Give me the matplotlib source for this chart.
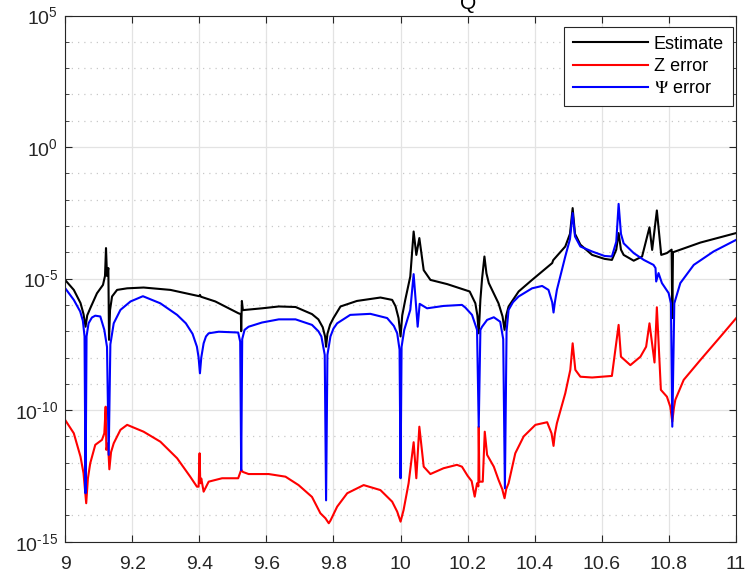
import numpy as np
import matplotlib
matplotlib.use("Agg")
import matplotlib.pyplot as plt

plt.rcParams["font.family"] = ["Liberation Sans", "DejaVu Sans"]
plt.rcParams["mathtext.default"] = "regular"
plt.rcParams["mathtext.fontset"] = "stix"

# values, rows of [x, log10(y)]
estimate = np.array([
    [9.000, -5.05], [9.026, -5.43], [9.046, -5.93], [9.055, -6.35], [9.061, -6.83],
    [9.066, -6.40], [9.075, -6.13], [9.095, -5.56], [9.113, -5.24], [9.119, -4.90],
    [9.122, -3.84], [9.125, -4.90], [9.129, -4.60], [9.131, -7.33], [9.134, -6.20],
    [9.140, -5.68], [9.155, -5.43], [9.185, -5.37], [9.234, -5.34], [9.314, -5.43],
    [9.400, -5.67], [9.402, -5.62], [9.405, -5.69], [9.448, -5.87], [9.517, -6.32],
    [9.524, -6.35], [9.525, -7.00], [9.527, -5.85], [9.530, -6.20], [9.537, -6.19],
    [9.587, -6.13], [9.637, -6.06], [9.687, -6.08], [9.736, -6.35], [9.755, -6.55],
    [9.768, -6.85], [9.775, -7.20], [9.778, -7.59], [9.782, -7.10], [9.790, -6.75],
    [9.800, -6.50], [9.821, -6.06], [9.870, -5.85], [9.940, -5.72], [9.975, -5.81],
    [9.985, -6.05], [9.994, -6.50], [10.000, -7.20], [10.005, -6.40], [10.014, -5.81],
    [10.029, -4.92], [10.039, -3.21], [10.047, -4.10], [10.056, -3.46], [10.069, -4.68],
    [10.089, -5.05], [10.139, -5.21], [10.206, -5.49], [10.223, -5.94], [10.229, -6.40],
    [10.233, -7.08], [10.238, -5.80], [10.243, -5.00], [10.250, -4.16], [10.256, -4.80],
    [10.263, -5.17], [10.292, -5.94], [10.304, -6.44], [10.310, -6.95], [10.315, -6.40],
    [10.322, -6.06], [10.352, -5.49], [10.392, -5.05], [10.452, -4.41], [10.455, -4.30],
    [10.491, -3.78], [10.505, -3.30], [10.513, -2.32], [10.520, -3.30], [10.536, -3.71],
    [10.571, -4.10], [10.608, -4.25], [10.630, -4.29], [10.643, -3.90], [10.650, -3.27],
    [10.657, -3.90], [10.665, -4.10], [10.695, -4.32], [10.720, -4.16], [10.742, -3.05],
    [10.750, -3.91], [10.764, -2.41], [10.777, -4.10], [10.794, -4.03], [10.808, -3.90],
    [10.810, -6.50], [10.812, -4.00], [10.894, -3.63], [11.000, -3.27],
])

z_error = np.array([
    [9.000, -10.37], [9.026, -10.88], [9.046, -11.77], [9.055, -12.40], [9.063, -13.54],
    [9.068, -12.60], [9.075, -12.02], [9.090, -11.32], [9.110, -11.13], [9.117, -10.88],
    [9.121, -9.87], [9.123, -11.51], [9.128, -11.26], [9.132, -12.25], [9.137, -11.60],
    [9.145, -11.26], [9.165, -10.75], [9.185, -10.56], [9.234, -10.82], [9.284, -11.20],
    [9.334, -11.83], [9.373, -12.53], [9.393, -12.91], [9.398, -12.91], [9.401, -11.64],
    [9.403, -12.78], [9.406, -12.60], [9.413, -13.10], [9.428, -12.72], [9.468, -12.59],
    [9.516, -12.59], [9.525, -12.27], [9.530, -12.35], [9.547, -12.43], [9.607, -12.43],
    [9.657, -12.53], [9.696, -12.85], [9.736, -13.30], [9.761, -13.92], [9.776, -14.11],
    [9.786, -14.30], [9.791, -14.20], [9.811, -13.67], [9.841, -13.16], [9.890, -12.85],
    [9.940, -13.04], [9.975, -13.48], [9.990, -13.86], [10.000, -14.24], [10.009, -13.80],
    [10.024, -12.78], [10.039, -11.22], [10.047, -12.59], [10.056, -10.63], [10.069, -12.15],
    [10.089, -12.43], [10.128, -12.21], [10.168, -12.08], [10.183, -12.15], [10.200, -12.50],
    [10.212, -12.70], [10.221, -13.29], [10.228, -12.78], [10.232, -12.90], [10.233, -10.63],
    [10.235, -12.72], [10.245, -12.72], [10.251, -10.82], [10.258, -11.70], [10.278, -12.15],
    [10.292, -12.65], [10.303, -13.00], [10.310, -13.35], [10.315, -13.00], [10.322, -12.78],
    [10.342, -11.64], [10.367, -11.00], [10.402, -10.56], [10.437, -10.46], [10.450, -10.88],
    [10.456, -11.36], [10.460, -10.90], [10.466, -10.50], [10.491, -9.36], [10.506, -8.47],
    [10.513, -7.46], [10.521, -8.47], [10.536, -8.73], [10.571, -8.76], [10.630, -8.70],
    [10.650, -6.76], [10.657, -7.97], [10.685, -8.29], [10.715, -7.97], [10.732, -7.59],
    [10.742, -6.70], [10.757, -8.19], [10.764, -6.09], [10.776, -9.23], [10.794, -9.49],
    [10.804, -9.87], [10.810, -10.44], [10.815, -9.90], [10.819, -9.61], [10.844, -8.85],
    [10.894, -8.09], [10.954, -7.20], [11.000, -6.51],
])

psi_error = np.array([
    [9.000, -5.36], [9.026, -5.81], [9.045, -6.25], [9.053, -6.60], [9.058, -7.20],
    [9.061, -13.16], [9.064, -7.20], [9.070, -6.70], [9.080, -6.48], [9.090, -6.41],
    [9.105, -6.44], [9.117, -6.95], [9.125, -7.60], [9.130, -11.70], [9.135, -7.50],
    [9.145, -6.70], [9.165, -6.19], [9.195, -5.87], [9.232, -5.67], [9.284, -5.94],
    [9.334, -6.38], [9.360, -6.70], [9.380, -7.10], [9.393, -7.59], [9.398, -8.00],
    [9.402, -8.60], [9.406, -8.00], [9.413, -7.46], [9.420, -7.20], [9.428, -7.08],
    [9.458, -7.02], [9.516, -7.05], [9.522, -7.40], [9.525, -12.28], [9.528, -7.30],
    [9.535, -6.95], [9.547, -6.83], [9.587, -6.67], [9.637, -6.55], [9.687, -6.55],
    [9.736, -6.76], [9.755, -7.00], [9.764, -7.20], [9.774, -7.90], [9.778, -13.43],
    [9.782, -7.90], [9.791, -7.20], [9.800, -6.90], [9.811, -6.70], [9.850, -6.38],
    [9.910, -6.34], [9.960, -6.50], [9.980, -6.80], [9.990, -7.08], [9.997, -7.70],
    [10.000, -12.59], [10.003, -7.60], [10.011, -6.95], [10.029, -6.19], [10.039, -4.83],
    [10.051, -6.83], [10.057, -5.96], [10.079, -6.13], [10.128, -6.04], [10.183, -6.00],
    [10.193, -6.10], [10.213, -6.38], [10.228, -6.95], [10.233, -10.63], [10.238, -6.95],
    [10.243, -6.83], [10.258, -6.57], [10.278, -6.47], [10.297, -6.64], [10.306, -7.30],
    [10.311, -12.97], [10.316, -7.00], [10.322, -6.19], [10.335, -5.90], [10.352, -5.68],
    [10.392, -5.37], [10.422, -5.28], [10.441, -5.43], [10.452, -5.90], [10.456, -6.29],
    [10.460, -5.90], [10.466, -5.43], [10.491, -4.16], [10.505, -3.50], [10.513, -2.51],
    [10.520, -3.40], [10.536, -3.78], [10.571, -3.97], [10.608, -4.14], [10.630, -4.16],
    [10.643, -3.60], [10.650, -2.16], [10.657, -3.30], [10.665, -3.66], [10.695, -4.03],
    [10.725, -4.29], [10.754, -4.48], [10.760, -4.60], [10.762, -5.11], [10.769, -4.79],
    [10.779, -5.17], [10.799, -5.55], [10.806, -5.94], [10.810, -10.63], [10.816, -5.94],
    [10.834, -5.17], [10.874, -4.48], [10.933, -3.97], [11.000, -3.53],
])

ytick_exps = [-15, -10, -5, 0, 5]
ytick_labels = ["$10^{\\text{-}15}$", "$10^{\\text{-}10}$", "$10^{\\text{-}5}$",
                "$10^{0}$", "$10^{5}$"]
xticks = [9, 9.2, 9.4, 9.6, 9.8, 10, 10.2, 10.4, 10.6, 10.8, 11]
xtick_labels = ["9", "9.2", "9.4", "9.6", "9.8", "10", "10.2", "10.4", "10.6", "10.8", "11"]

fig = plt.figure(figsize=(7.48, 5.75), dpi=100)
ax = fig.add_axes([0.087, 0.058, 0.897, 0.915])

ax.semilogy(estimate[:, 0], 10.0 ** estimate[:, 1], color="black", lw=1.5, label="Estimate")
ax.semilogy(z_error[:, 0], 10.0 ** z_error[:, 1], color="red", lw=1.5, label="Z error")
ax.semilogy(psi_error[:, 0], 10.0 ** psi_error[:, 1], color="blue", lw=1.5,
            label="$\\mathrm{\\Psi}$ error")

ax.set_xlim(9, 11)
ax.set_ylim(1e-15, 1e5)
ax.set_xticks(xticks)
ax.set_xticklabels(xtick_labels)
ax.set_yticks([10.0 ** e for e in ytick_exps])
ax.set_yticklabels(ytick_labels)
ax.set_yticks([10.0 ** e for e in range(-15, 6)], minor=True)
ax.yaxis.set_minor_formatter(matplotlib.ticker.NullFormatter())

ax.grid(True, which="major", color="#e3e3e3", lw=0.9, ls="-")
ax.grid(True, which="minor", axis="y", color="#c8c8c8", lw=0.9, ls=(0, (1, 4)))
ax.set_axisbelow(True)

ax.tick_params(which="both", direction="in", top=True, right=True,
               labelsize=14, colors="#262626", length=5)
ax.tick_params(which="minor", length=3)
ax.tick_params(axis="x", pad=10)
ax.tick_params(axis="y", pad=5)
for s in ax.spines.values():
    s.set_color("#262626")
    s.set_linewidth(0.8)

ax.set_title("Q", fontsize=15, x=0.6, pad=5)

leg = ax.legend(loc="upper right", bbox_to_anchor=(0.9955, 0.979), borderaxespad=0,
                fontsize=13, fancybox=False, framealpha=1, edgecolor="#262626",
                handlelength=4.2, handletextpad=0.3, labelspacing=0.3, borderpad=0.5)
leg.get_frame().set_linewidth(0.8)

fig.savefig("out.png", dpi=100)
